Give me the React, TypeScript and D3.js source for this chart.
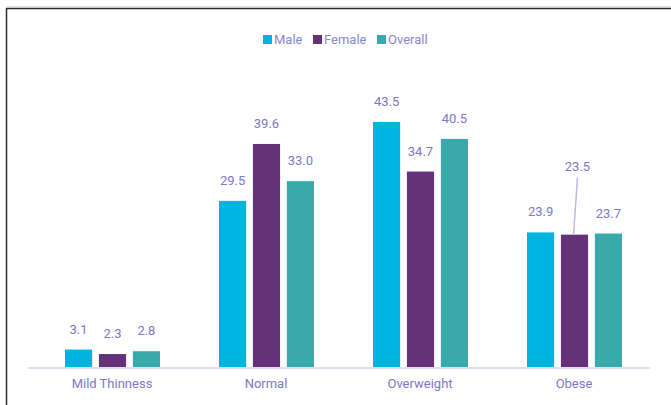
import { useEffect, useRef } from 'react';
import * as d3 from 'd3';

const categories = ['Mild Thinness', 'Normal', 'Overweight', 'Obese'];
const seriesNames = ['Male', 'Female', 'Overall'];
const maleValues = [3.1, 29.5, 43.5, 23.9];
const femaleValues = [2.3, 39.6, 34.7, 23.5];
const overallValues = [2.8, 33.0, 40.5, 23.7];
const colors = ['#00b4e0', '#633278', '#39a9ab'];

const W = 671;
const H = 405;

export default function App() {
  const svgRef = useRef<SVGSVGElement>(null);

  useEffect(() => {
    if (!svgRef.current) return;
    const svg = d3.select(svgRef.current);
    svg.selectAll('*').remove();

    const font = 'Roboto, "Open Sans", Arial, sans-serif';
    const labelColor = '#7d78c6';
    const series = [maleValues, femaleValues, overallValues];

    // frame (top and left edges only visible)
    svg.append('path')
      .attr('d', `M6.5,${H} V8.5 H${W}`)
      .attr('fill', 'none')
      .attr('stroke', '#2b2b2b')
      .attr('stroke-width', 1.5);
    svg.append('line')
      .attr('x1', 6).attr('x2', W).attr('y1', 7).attr('y2', 7)
      .attr('stroke', '#c8c8c8').attr('stroke-width', 1);

    const x = d3.scaleBand<string>().domain(categories).range([35, 651]).padding(0);
    const inner = d3.scaleBand<string>().domain(seriesNames).range([-47, 48]).paddingInner(0.2);
    const y = d3.scaleLinear().domain([0, 43.5]).range([367, 122]);

    // bars
    series.forEach((vals, si) => {
      svg.append('g')
        .selectAll('rect')
        .data(vals)
        .enter()
        .append('rect')
        .attr('x', (_, i) => (x(categories[i]) || 0) + x.bandwidth() / 2 + (inner(seriesNames[si]) || 0))
        .attr('y', (d) => y(d))
        .attr('width', inner.bandwidth())
        .attr('height', (d) => y(0) - y(d))
        .attr('fill', colors[si]);
    });

    // axis line
    svg.append('line')
      .attr('x1', 28).attr('x2', 650)
      .attr('y1', 368).attr('y2', 368)
      .attr('stroke', '#e2def2').attr('stroke-width', 2);

    // category labels
    svg.append('g')
      .selectAll('text')
      .data(categories)
      .enter()
      .append('text')
      .attr('x', (d) => (x(d) || 0) + x.bandwidth() / 2)
      .attr('y', 388)
      .attr('text-anchor', 'middle')
      .attr('font-family', font)
      .attr('font-size', 13)
      .attr('fill', labelColor)
      .text((d) => d);

    // value labels
    series.forEach((vals, si) => {
      vals.forEach((v, i) => {
        const cx = (x(categories[i]) || 0) + x.bandwidth() / 2 + (inner(seriesNames[si]) || 0) + inner.bandwidth() / 2;
        const lifted = categories[i] === 'Obese' && si === 1;
        const ly = lifted ? y(v) - 64 : y(v) - 16;
        const lx = lifted ? cx + 3 : cx;
        if (lifted) {
          svg.append('line')
            .attr('x1', lx).attr('y1', ly + 7)
            .attr('x2', cx - 1).attr('y2', y(v))
            .attr('stroke', '#bdb9e2').attr('stroke-width', 1.5);
        }
        svg.append('text')
          .attr('x', lx)
          .attr('y', ly)
          .attr('text-anchor', 'middle')
          .attr('font-family', font)
          .attr('font-size', 13)
          .attr('fill', labelColor)
          .text(v.toFixed(1));
      });
    });

    // legend
    const legendX = [263, 313, 377];
    seriesNames.forEach((name, i) => {
      svg.append('rect')
        .attr('x', legendX[i]).attr('y', 35)
        .attr('width', 9).attr('height', 9)
        .attr('fill', colors[i]);
      svg.append('text')
        .attr('x', legendX[i] + 11).attr('y', 44)
        .attr('font-family', font)
        .attr('font-size', 13)
        .attr('fill', '#8a86cf')
        .text(name);
    });
  }, []);

  return (
    <div style={{ position: 'fixed', left: 0, top: 0 }}>
      <svg ref={svgRef} width={W} height={H} style={{ display: 'block', background: '#fff' }} />
    </div>
  );
}
